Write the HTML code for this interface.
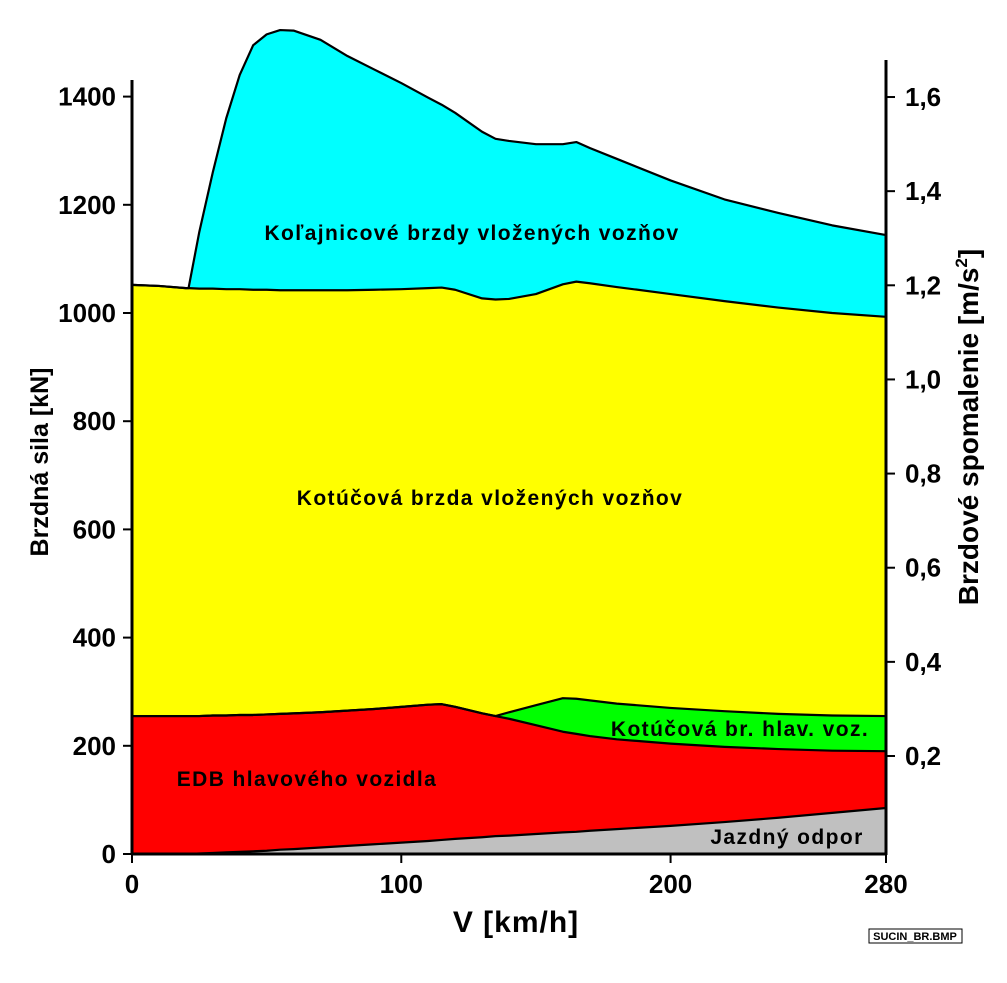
<!DOCTYPE html>
<html><head><meta charset="utf-8"><style>
body{margin:0;background:#fff}
svg text{font-family:"Liberation Sans",sans-serif;font-weight:bold}
</style></head><body>
<svg id="chart" width="1007" height="978" viewBox="0 0 1007 978" xmlns="http://www.w3.org/2000/svg"></svg>
<script>
const speeds=[0,10,20,21,25,30,35,40,45,50,55,60,70,80,90,100,110,115,120,130,135,140,150,160,165,170,180,200,220,240,260,280];
const resist=[0,0,0,0,1,2,3,4,5,6,8,9,12,15,18,21,24,26,28,31,33,34,37,40,41,43,46,52,59,67,76,85];
const edb=[255,255,255,255,255,256,256,257,257,258,259,260,262,265,268,272,276,277,272,260,255,250,238,226,222,218,212,204,198,194,191,190];
const greenTop=[255,255,255,255,255,256,256,257,257,258,259,260,262,265,268,272,276,277,272,260,255,262,275,288,287,284,278,270,264,259,256,255];
const yellowTop=[1052,1050,1046,1046,1045,1045,1044,1044,1043,1043,1042,1042,1042,1042,1043,1044,1046,1047,1043,1027,1025,1026,1035,1053,1058,1055,1048,1035,1022,1010,1000,993];
const cyanTop=[1052,1050,1046,1046,1150,1260,1360,1440,1495,1515,1523,1522,1505,1475,1450,1425,1398,1385,1370,1335,1322,1318,1312,1312,1316,1305,1285,1245,1210,1185,1162,1144];
const leftTicks=[0,200,400,600,800,1000,1200,1400];
const rightTicks=["0,2","0,4","0,6","0,8","1,0","1,2","1,4","1,6"];
const rightVals=[0.2,0.4,0.6,0.8,1.0,1.2,1.4,1.6];
const xTicks=[0,100,200,280];

const X=v=>132+v*(754/280);
const Y=f=>854-f*0.541;
const YR=a=>756-(a-0.2)/0.2*94.14;
const svg=document.getElementById('chart');
const NS='http://www.w3.org/2000/svg';
function mk(tag,attrs){const e=document.createElementNS(NS,tag);for(const k in attrs)e.setAttribute(k,attrs[k]);svg.appendChild(e);return e;}
function band(top,bot,color,name){
  let pts=speeds.map((s,i)=>X(s)+','+Y(top[i]));
  for(let i=speeds.length-1;i>=0;i--)pts.push(X(speeds[i])+','+Y(bot?bot[i]:0));
  const p=mk('polygon',{points:pts.join(' '),fill:color,stroke:'none'});
  
  
}
band(cyanTop,yellowTop,'#00ffff','rail-brake-area');
band(yellowTop,greenTop,'#ffff00','disc-brake-cars-area');
band(greenTop,edb,'#00ff00','disc-brake-loco-area');
band(edb,resist,'#ff0000','edb-area');
band(resist,null,'#c0c0c0','running-resistance-area');
function line(arr,name){
  const p=mk('polyline',{points:speeds.map((s,i)=>X(s)+','+Y(arr[i])).join(' '),fill:'none',stroke:'#000','stroke-width':2.2,'stroke-linejoin':'round'});
  
  
}
line(resist,'resistance-line');line(edb,'edb-line');line(greenTop,'loco-disc-line');line(yellowTop,'cars-disc-line');line(cyanTop,'rail-brake-line');
mk('line',{x1:132,y1:80,x2:132,y2:855,stroke:'#000','stroke-width':3});
mk('line',{x1:886,y1:60,x2:886,y2:855,stroke:'#000','stroke-width':3});
mk('line',{x1:131,y1:854,x2:887,y2:854,stroke:'#000','stroke-width':3});
leftTicks.forEach(t=>{
  mk('line',{x1:123,y1:Y(t),x2:132,y2:Y(t),stroke:'#000','stroke-width':2});
  const e=mk('text',{x:116,y:Y(t)+9,'text-anchor':'end','font-size':26});e.textContent=t;
  
  
});
rightVals.forEach((v,i)=>{
  mk('line',{x1:886,y1:YR(v),x2:895,y2:YR(v),stroke:'#000','stroke-width':2});
  const e=mk('text',{x:905,y:YR(v)+9,'font-size':26});e.textContent=rightTicks[i];
  
  
});
xTicks.forEach(t=>{
  mk('line',{x1:X(t),y1:854,x2:X(t),y2:863,stroke:'#000','stroke-width':2});
  const e=mk('text',{x:X(t),y:893,'text-anchor':'middle','font-size':26});e.textContent=t;
  
  
});
function txt(x,y,s,size,name,extra){const e=mk('text',Object.assign({x:x,y:y,'font-size':size,'text-anchor':'middle'},extra||{}));e.textContent=s;
  
  return e;}
const ls={'letter-spacing':1.4};
txt(472,240,'Koľajnicové brzdy vložených vozňov',21,'rail-brake-label',ls);
txt(490,505,'Kotúčová brzda vložených vozňov',21,'disc-brake-cars-label',ls);
txt(740,736,'Kotúčová br. hlav. voz.',21,'disc-brake-loco-label',ls);
txt(307,786,'EDB hlavového vozidla',21,'edb-label',ls);
txt(787,844,'Jazdný odpor',21,'resistance-label',ls);
txt(516,932,'V [km/h]',30,'x-axis-title',{'letter-spacing':1});
txt(48,462,'Brzdná sila [kN]',25,'y-axis-title',{transform:'rotate(-90 48 462)'});
const r=txt(978,427,'',28,'right-axis-title',{transform:'rotate(-90 978 427)'});
r.innerHTML='Brzdové spomalenie  [m/s<tspan font-size="17" dy="-11">2</tspan><tspan dy="11">]</tspan>';
mk('rect',{x:869,y:929,width:93,height:14,fill:'#fff',stroke:'#000','stroke-width':1});
txt(915,940,'SUCIN_BR.BMP',11,'file-label',{'font-weight':'normal'});
</script>
</body></html>
